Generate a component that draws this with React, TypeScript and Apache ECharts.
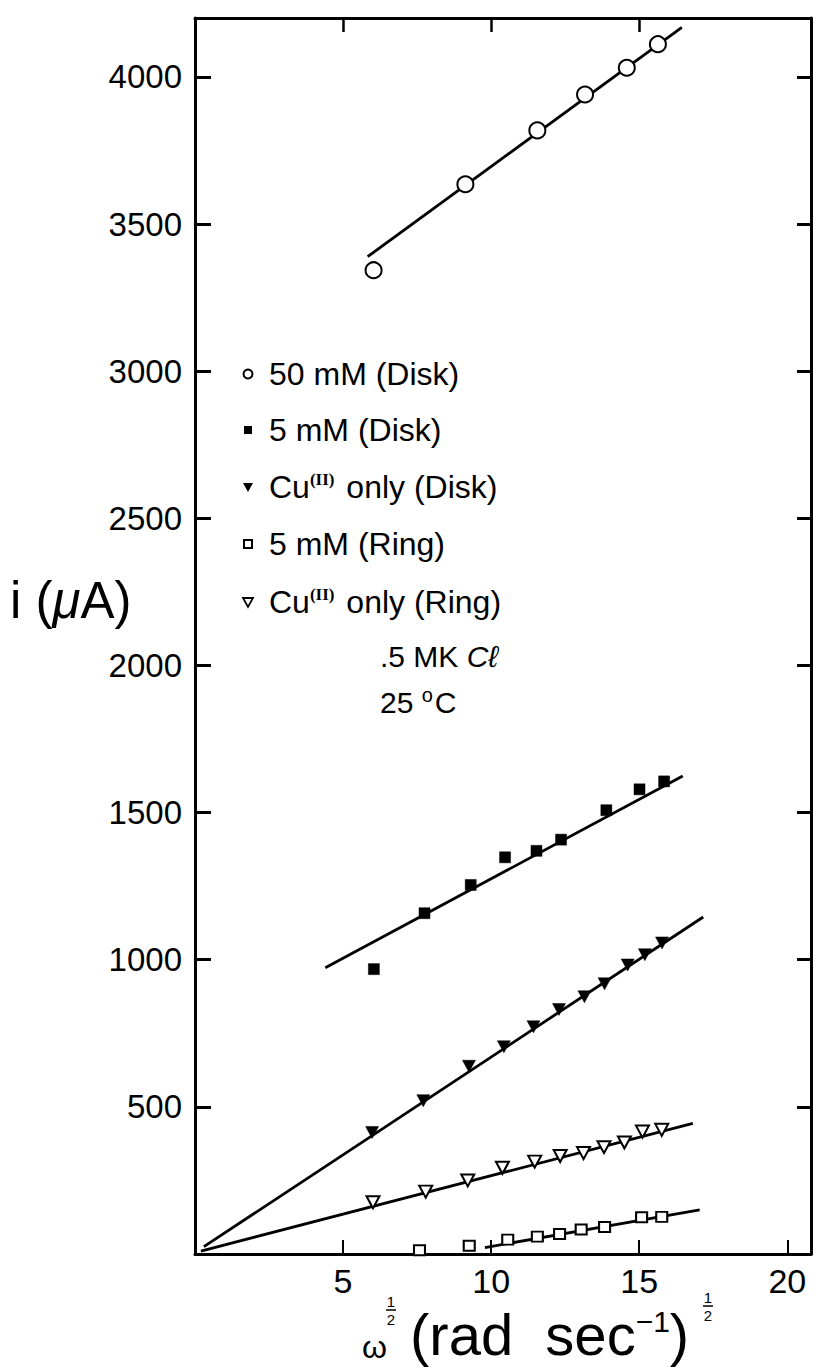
import React, { useEffect, useRef } from "react";
import * as echarts from "echarts";

// ---- data ----
const xTickValues = [5, 10, 15, 20];
const xTopTickValues = [5, 10, 15];
const yTickValues = [500, 1000, 1500, 2000, 2500, 3000, 3500, 4000];

// 50 mM (Disk) — open circles
const disk50X = [6.03, 9.13, 11.56, 13.17, 14.58, 15.63];
const disk50Y = [3343, 3635, 3818, 3940, 4031, 4111];
const disk50Fit = [[5.83, 3389], [16.44, 4168]];

// 5 mM (Disk) — filled squares
const disk5X = [6.04, 7.75, 9.31, 10.47, 11.53, 12.36, 13.89, 15.01, 15.84];
const disk5Y = [968, 1158, 1254, 1348, 1370, 1408, 1508, 1579, 1606];
const disk5Fit = [[4.4, 973], [16.47, 1624]];

// Cu(II) only (Disk) — filled down triangles
const cuDiskX = [5.98, 7.71, 9.25, 10.43, 11.43, 12.29, 13.15, 13.83, 14.61, 15.19, 15.77];
const cuDiskY = [413, 521, 638, 704, 772, 831, 874, 918, 982, 1017, 1057];
const cuDiskFit = [[0.3, 25], [17.16, 1145]];

// 5 mM (Ring) — open squares
const ring5X = [7.58, 9.26, 10.56, 11.56, 12.31, 13.04, 13.83, 15.08, 15.76];
const ring5Y = [13, 28, 49, 59, 68, 83, 92, 125, 126];
const ring5Fit = [[9.79, 22], [17.04, 150]];

// Cu(II) only (Ring) — open down triangles
const cuRingX = [6.01, 7.79, 9.21, 10.38, 11.47, 12.33, 13.12, 13.81, 14.5, 15.11, 15.76];
const cuRingY = [176, 212, 250, 293, 314, 333, 343, 363, 379, 416, 422];
const cuRingFit = [[0.2, 10], [16.81, 444]];

const legendLabels = [
  "50 mM (Disk)",
  "5 mM (Disk)",
  "Cu{sup|(II)} only (Disk)",
  "5 mM (Ring)",
  "Cu{sup|(II)} only (Ring)",
];

const FONT = '"Liberation Sans", Arial, Helvetica, sans-serif';

const zip = (xs: number[], ys: number[]) => xs.map((x, i) => [x, ys[i]]);

export default function App() {
  const ref = useRef<HTMLDivElement>(null);

  useEffect(() => {
    const chart = echarts.init(ref.current!, null, { renderer: "svg" });

    const black = "#000";
    const fitLine = (data: number[][]) => ({
      type: "line",
      data,
      symbol: "none",
      showSymbol: false,
      lineStyle: { color: black, width: 2.8 },
      silent: true,
      z: 2,
    });
    const scatter = (data: number[][], symbol: string, size: number | number[], filled: boolean, rotate = 0) => ({
      type: "scatter",
      data,
      symbol,
      symbolSize: size,
      symbolRotate: rotate,
      itemStyle: {
        color: filled ? black : "#fff",
        borderColor: black,
        borderWidth: filled ? 0.5 : 2,
        opacity: 1,
      },
      z: 3,
    });

    const sup = { fontSize: 17, fontFamily: '"Liberation Serif", serif', fontWeight: "bold", padding: [0, 3, 16, 0], fill: black };

    const legendRowY = [374, 430, 487, 544, 602];
    const legendSymX = 248;
    const legendSymbols: any[] = [
      { type: "circle", shape: { cx: legendSymX, cy: legendRowY[0], r: 4.5 }, style: { fill: "#fff", stroke: black, lineWidth: 2 } },
      { type: "rect", shape: { x: legendSymX - 4, y: legendRowY[1] - 4, width: 8, height: 8 }, style: { fill: black } },
      { type: "polygon", shape: { points: [[legendSymX - 5, legendRowY[2] - 4], [legendSymX + 5, legendRowY[2] - 4], [legendSymX, legendRowY[2] + 5]] }, style: { fill: black } },
      { type: "rect", shape: { x: legendSymX - 4, y: legendRowY[3] - 4, width: 8, height: 8 }, style: { fill: "#fff", stroke: black, lineWidth: 2 } },
      { type: "polygon", shape: { points: [[legendSymX - 5, legendRowY[4] - 4], [legendSymX + 5, legendRowY[4] - 4], [legendSymX, legendRowY[4] + 5]] }, style: { fill: "#fff", stroke: black, lineWidth: 1.8 } },
    ];
    const legendTexts = legendLabels.map((t, i) => ({
      type: "text",
      x: 269,
      y: legendRowY[i],
      style: {
        text: t,
        fill: black,
        fontSize: 32,
        fontFamily: FONT,
        verticalAlign: "middle",
        align: "left",
        rich: { sup },
      },
    }));

    const frac = (cx: number, top: number, fs: number) => [
      { type: "text", x: cx, y: top, style: { text: "1", fill: black, fontSize: fs, fontFamily: FONT, align: "center", verticalAlign: "top" } },
      { type: "line", shape: { x1: cx - 5, y1: top + fs + 1, x2: cx + 5, y2: top + fs + 1 }, style: { stroke: black, lineWidth: 1.5 } },
      { type: "text", x: cx, y: top + fs + 3, style: { text: "2", fill: black, fontSize: fs, fontFamily: FONT, align: "center", verticalAlign: "top" } },
    ];

    const option: any = {
      animation: false,
      backgroundColor: "#fff",
      grid: { left: 195, right: 12, top: 18, bottom: 116, containLabel: false },
      xAxis: [
        {
          type: "value",
          position: "bottom",
          min: 0,
          max: 20.8,
          interval: 5,
          axisLine: { show: true, onZero: false, lineStyle: { color: black, width: 3 } },
          axisTick: { show: true, inside: true, length: 14, lineStyle: { color: black, width: 2 }, customValues: xTickValues },
          axisLabel: {
            show: true,
            color: black,
            fontSize: 34,
            fontFamily: FONT,
            margin: 10,
            customValues: xTickValues,
            formatter: (v: number) => (xTickValues.includes(v) ? String(v) : ""),
          },
          splitLine: { show: false },
        },
        {
          type: "value",
          position: "top",
          min: 0,
          max: 20.8,
          interval: 5,
          axisLine: { show: true, onZero: false, lineStyle: { color: black, width: 3 } },
          axisTick: { show: true, inside: true, length: 14, lineStyle: { color: black, width: 2.5 }, customValues: xTopTickValues },
          axisLabel: { show: false },
          splitLine: { show: false },
        },
      ],
      yAxis: [
        {
          type: "value",
          position: "left",
          min: 0,
          max: 4200,
          interval: 500,
          axisLine: { show: true, onZero: false, lineStyle: { color: black, width: 3 } },
          axisTick: { show: true, inside: true, length: 16, lineStyle: { color: black, width: 3 }, customValues: yTickValues },
          axisLabel: {
            show: true,
            color: black,
            fontSize: 33,
            fontFamily: FONT,
            margin: 13,
            customValues: yTickValues,
            formatter: (v: number) => (yTickValues.includes(v) ? String(v) : ""),
          },
          splitLine: { show: false },
        },
        {
          type: "value",
          position: "right",
          min: 0,
          max: 4200,
          interval: 500,
          axisLine: { show: true, onZero: false, lineStyle: { color: black, width: 3 } },
          axisTick: { show: true, inside: true, length: 14, lineStyle: { color: black, width: 3 }, customValues: yTickValues },
          axisLabel: { show: false },
          splitLine: { show: false },
        },
      ],
      series: [
        fitLine(disk50Fit),
        fitLine(disk5Fit),
        fitLine(cuDiskFit),
        fitLine(ring5Fit),
        fitLine(cuRingFit),
        scatter(zip(disk50X, disk50Y), "circle", 16, false),
        scatter(zip(disk5X, disk5Y), "rect", [11, 11], true),
        scatter(zip(cuDiskX, cuDiskY), "triangle", [13, 12], true, 180),
        scatter(zip(ring5X, ring5Y), "rect", [11, 10], false),
        scatter(zip(cuRingX, cuRingY), "triangle", [13, 12], false, 180),
      ],
      graphic: [
        // y-axis name
        {
          type: "text",
          x: 10,
          y: 600,
          style: {
            text: "i ({mu|μ}A)",
            fill: black,
            fontSize: 51,
            fontFamily: FONT,
            verticalAlign: "middle",
            rich: { mu: { fontSize: 51, fontStyle: "italic", fontFamily: FONT, fill: black } },
          },
        },
        ...legendSymbols,
        ...legendTexts,
        {
          type: "text",
          x: 380,
          y: 656,
          style: {
            text: ".5 MK {it|Cℓ}",
            fill: black,
            fontSize: 30,
            fontFamily: FONT,
            verticalAlign: "middle",
            rich: { it: { fontSize: 30, fontStyle: "italic", fontFamily: FONT, fill: black } },
          },
        },
        {
          type: "text",
          x: 380,
          y: 702,
          style: {
            text: "25 {deg|o}C",
            fill: black,
            fontSize: 30,
            fontFamily: FONT,
            verticalAlign: "middle",
            rich: { deg: { fontSize: 20, fontFamily: FONT, fill: black, padding: [0, 2, 14, 0] } },
          },
        },
        // x-axis name
        {
          type: "text",
          x: 362,
          y: 1347,
          style: { text: "ω", fill: black, fontSize: 32, fontFamily: FONT, verticalAlign: "middle" },
        },
        ...frac(391, 1294, 15),
        {
          type: "text",
          x: 410,
          y: 1334,
          style: {
            text: "(rad  sec{sup|−1})",
            fill: black,
            fontSize: 58,
            fontFamily: FONT,
            verticalAlign: "middle",
            rich: { sup: { fontSize: 30, fontFamily: FONT, fill: black, padding: [0, 0, 26, 0] } },
          },
        },
        ...frac(708, 1290, 15),
      ],
    };

    chart.setOption(option);
    return () => chart.dispose();
  }, []);

  return <div ref={ref} style={{ position: "absolute", left: 0, top: 0, width: 823, height: 1370 }} />;
}
